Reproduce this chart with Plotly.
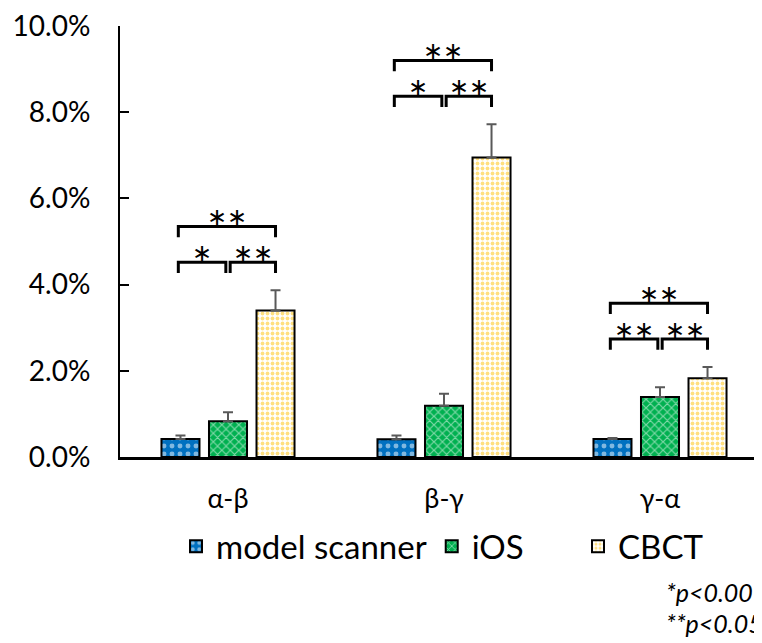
import plotly.graph_objects as go

categories = ["α-β", "β-γ", "γ-α"]
series_names = ["model scanner", "iOS", "CBCT"]
model_scanner = [0.42, 0.41, 0.42]
model_scanner_err = [0.08, 0.09, 0.02]
ios = [0.83, 1.19, 1.39]
ios_err = [0.21, 0.28, 0.23]
cbct = [3.40, 6.95, 1.83]
cbct_err = [0.47, 0.77, 0.26]
# significance labels per group: (model vs iOS, iOS vs CBCT, model vs CBCT)
sig_labels = [["*", "**", "**"], ["*", "**", "**"], ["**", "**", "**"]]
y_ticks = [0, 2, 4, 6, 8, 10]

FONT = "Lato, Carlito, Calibri, sans-serif"
values = [model_scanner, ios, cbct]
errors = [model_scanner_err, ios_err, cbct_err]
patterns = [
    dict(shape=".", bgcolor="#0070C0", fgcolor="white", size=8, solidity=0.3),
    dict(shape="x", bgcolor="#00B050", fgcolor="white", size=6, solidity=0.35),
    dict(shape=".", bgcolor="white", fgcolor="#FFC000", size=5, solidity=0.45),
]
legend_ids = ["legend", "legend", "legend2"]

fig = go.Figure()
for name, v, e, p, lg in zip(series_names, values, errors, patterns, legend_ids):
    fig.add_trace(go.Bar(
        x=list(range(len(categories))), y=v, name=name, legend=lg,
        marker=dict(pattern=p, color=p["bgcolor"], line=dict(color="black", width=2)),
        error_y=dict(type="data", array=e, arrayminus=[0] * len(e), symmetric=False,
                     color="#595959", thickness=2, width=5),
    ))

bargap = 0.34
slot = (1 - bargap) / 3
shapes = []
annotations = []
for i in range(len(categories)):
    top = max(values[s][i] + errors[s][i] for s in range(3))
    small_y = top + 0.65
    big_y = small_y + 0.83
    drop = 0.25
    brackets = [
        (i - slot - 0.01, i - 0.01, small_y, sig_labels[i][0]),
        (i + 0.01, i + slot, small_y, sig_labels[i][1]),
        (i - slot - 0.01, i + slot, big_y, sig_labels[i][2]),
    ]
    for x0, x1, yb, lab in brackets:
        shapes.append(dict(type="path", xref="x", yref="y",
                           path=f"M {x0},{yb - drop} L {x0},{yb} L {x1},{yb} L {x1},{yb - drop}",
                           line=dict(color="black", width=3)))
        annotations.append(dict(x=(x0 + x1) / 2, y=yb, xref="x", yref="y",
                                text="".join("\u2217" for _ in lab), showarrow=False,
                                yanchor="middle", yshift=9,
                                font=dict(family="DejaVu Sans", size=24, color="black")))

annotations.append(dict(x=(664 - 120) / 642, y=-0.313, xref="paper", yref="paper",
                        text="<i>*p<0.001</i>", showarrow=False, xanchor="left", yanchor="middle",
                        font=dict(family=FONT, size=25, color="black")))
annotations.append(dict(x=(664 - 120) / 642, y=-0.385, xref="paper", yref="paper",
                        text="<i>**p<0.05</i>", showarrow=False, xanchor="left", yanchor="middle",
                        font=dict(family=FONT, size=25, color="black")))

legend_style = dict(orientation="h", xanchor="left", y=-0.207, yanchor="middle",
                    font=dict(family=FONT, size=33, color="black"), itemsizing="constant",
                    traceorder="normal", bgcolor="rgba(0,0,0,0)")

fig.update_layout(
    width=754, height=635,
    margin=dict(l=112, r=0, t=18, b=186, autoexpand=False),
    paper_bgcolor="white", plot_bgcolor="white",
    barmode="group", bargap=bargap, bargroupgap=0.2,
    font=dict(family=FONT, color="black"),
    shapes=shapes, annotations=annotations,
    showlegend=True,
    legend=dict(x=(176 - 120) / 642, **legend_style),
    legend2=dict(x=(578 - 120) / 642, **legend_style),
    xaxis=dict(tickmode="array", tickvals=list(range(len(categories))), ticktext=categories,
               range=[-0.5, -0.5 + 642 / 216], showline=True, linecolor="black", linewidth=2.5,
               ticks="", showgrid=False, zeroline=False, ticklabelstandoff=16, automargin=False,
               tickfont=dict(family=FONT, size=27, color="black")),
    yaxis=dict(range=[0, 10], tickvals=y_ticks, ticktext=[f"{t:.1f}%" for t in y_ticks],
               showline=True, linecolor="black", linewidth=2, ticks="inside", ticklen=9,
               tickwidth=2, tickcolor="black", showgrid=False, zeroline=False, automargin=False,
               ticklabeloverflow="allow", ticklabelstandoff=22,
               tickfont=dict(family=FONT, size=28, color="black")),
)

fig.write_html("out.html")
